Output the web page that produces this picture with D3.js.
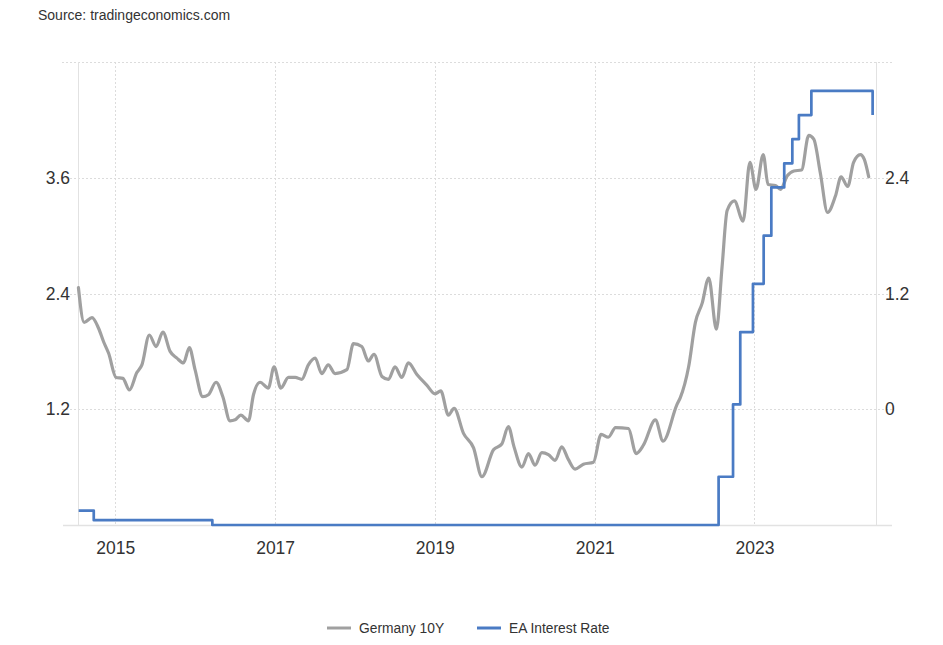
<!DOCTYPE html>
<html>
<head>
<meta charset="utf-8">
<script src="https://cdn.jsdelivr.net/npm/d3@7"></script>
<style>
  body { margin: 0; background: #fff; font-family: "Liberation Sans", Arial, sans-serif; }
  svg text { fill: #333; }
</style>
</head>
<body>
<div id="chart"></div>
<script>
/* Germany 10Y */
var bundDates = ["2014-07-17","2014-08-12","2014-09-17","2014-10-17","2014-11-09","2014-12-02",
  "2015-01-05","2015-02-05","2015-03-07","2015-04-10","2015-05-03","2015-06-06","2015-07-07","2015-08-07",
  "2015-09-09","2015-10-10","2015-11-09","2015-12-06","2016-01-01","2016-02-05","2016-03-02","2016-04-06",
  "2016-05-07","2016-06-09","2016-07-02","2016-07-28","2016-09-01","2016-09-24","2016-10-24","2016-12-01",
  "2016-12-27","2017-01-27","2017-03-03","2017-04-03","2017-05-03","2017-06-02","2017-07-03","2017-08-02",
  "2017-09-01","2017-10-02","2017-11-25","2017-12-25","2018-02-01","2018-03-03","2018-03-29","2018-05-04",
  "2018-06-03","2018-07-03","2018-08-03","2018-09-02","2018-10-11","2018-11-25","2019-01-02","2019-01-28",
  "2019-03-04","2019-03-30","2019-05-12","2019-06-27","2019-08-04","2019-09-26","2019-11-03","2019-12-03",
  "2019-12-29","2020-02-03","2020-03-04","2020-04-03","2020-05-04","2020-06-03","2020-07-04","2020-08-03",
  "2020-09-02","2020-10-03","2020-11-10","2020-12-26","2021-01-30","2021-03-04","2021-04-06","2021-06-04",
  "2021-07-09","2021-08-12","2021-10-05","2021-11-09","2022-01-12","2022-01-27","2022-03-06","2022-04-06",
  "2022-05-07","2022-06-06","2022-07-11","2022-08-06","2022-08-29","2022-10-01","2022-11-10","2022-12-11",
  "2023-01-08","2023-02-10","2023-03-04","2023-04-07","2023-04-30","2023-05-31","2023-06-30","2023-08-04",
  "2023-09-06","2023-09-29","2023-10-29","2023-12-01","2024-01-06","2024-02-01","2024-03-02","2024-03-29",
  "2024-04-29","2024-05-17","2024-06-06"];
var bundValues = [2.46,2.10,2.15,2.04,1.90,1.78,
  1.53,1.52,1.40,1.58,1.66,1.97,1.85,2.00,
  1.80,1.73,1.68,1.84,1.61,1.33,1.35,1.48,
  1.33,1.08,1.09,1.14,1.08,1.35,1.48,1.42,
  1.64,1.42,1.53,1.53,1.51,1.66,1.73,1.57,
  1.66,1.57,1.61,1.88,1.85,1.70,1.77,1.54,
  1.51,1.64,1.53,1.68,1.56,1.45,1.36,1.39,
  1.14,1.21,0.95,0.80,0.50,0.78,0.84,1.02,
  0.81,0.60,0.74,0.62,0.75,0.73,0.67,0.81,
  0.68,0.58,0.63,0.65,0.94,0.91,1.01,1.00,
  0.74,0.83,1.09,0.87,1.25,1.32,1.64,2.10,
  2.30,2.56,2.03,2.68,3.26,3.36,3.15,3.76,
  3.48,3.84,3.53,3.52,3.48,3.62,3.67,3.68,
  4.04,4.00,3.65,3.24,3.41,3.61,3.51,3.76,
  3.84,3.79,3.61];

/* EA interest rate */
var rateDates = ["2014-07-18","2014-09-25","2016-03-20","2022-07-21","2022-09-25","2022-10-28","2022-12-25",
  "2023-02-12","2023-03-19","2023-05-17","2023-06-23","2023-07-23","2023-09-18","2024-06-10","2024-06-24"];
var rateValues = [-1.05,-1.15,-1.2,-0.7,0.05,0.8,1.3,1.8,2.3,2.55,2.8,3.05,3.3,3.3,3.05];

var leftTicks = [1.2, 2.4, 3.6];
var rightTicks = [0, 1.2, 2.4];
var yearTicks = [2015, 2017, 2019, 2021, 2023];
var seriesNames = ["Germany 10Y", "EA Interest Rate"];
var seriesColors = ["#a0a0a0", "#4a7bc4"];

var width = 943, height = 645;
var margin = {top: 62, right: 66, bottom: 120, left: 78};
var w = width - margin.left - margin.right,
    h = height - margin.top - margin.bottom;

var parse = d3.timeParse("%Y-%m-%d");
var bund = bundDates.map(function(d, i) { return {date: parse(d), value: bundValues[i]}; });
var rate = rateDates.map(function(d, i) { return {date: parse(d), value: rateValues[i]}; });

var x = d3.scaleTime().domain([parse("2014-07-15"), parse("2024-07-14")]).range([0, w]);
var yL = d3.scaleLinear().domain([0, 4.8]).range([h, 0]);
var yR = d3.scaleLinear().domain([-1.2, 3.6]).range([h, 0]);

var svg = d3.select("#chart").append("svg")
    .attr("width", width)
    .attr("height", height);

svg.append("text")
    .attr("x", 38).attr("y", 20)
    .attr("font-size", 14)
    .text("Source: tradingeconomics.com");

var chart = svg.append("g")
    .attr("transform", "translate(" + margin.left + "," + margin.top + ")");

/* horizontal grid */
chart.append("g").selectAll("line")
    .data([1.2, 2.4, 3.6, 4.8])
    .enter().append("line")
    .attr("x1", -16).attr("x2", w + 15)
    .attr("y1", function(d) { return Math.round(yL(d)) + 0.5; })
    .attr("y2", function(d) { return Math.round(yL(d)) + 0.5; })
    .attr("stroke", "#dcdcdc")
    .attr("stroke-dasharray", "2,2");

/* vertical grid */
chart.append("g").selectAll("line")
    .data(yearTicks)
    .enter().append("line")
    .attr("x1", function(d) { return Math.round(x(new Date(d, 0, 1))) + 0.5; })
    .attr("x2", function(d) { return Math.round(x(new Date(d, 0, 1))) + 0.5; })
    .attr("y1", 0).attr("y2", h)
    .attr("stroke", "#dcdcdc")
    .attr("stroke-dasharray", "2,2");

/* frame lines */
chart.append("line").attr("x1", 0.5).attr("x2", 0.5).attr("y1", 0).attr("y2", h)
    .attr("stroke", "#e2e2e2");
chart.append("line").attr("x1", w - 0.5).attr("x2", w - 0.5).attr("y1", 0).attr("y2", h)
    .attr("stroke", "#e2e2e2");
chart.append("line").attr("x1", -15).attr("x2", w + 15).attr("y1", h + 0.5).attr("y2", h + 0.5)
    .attr("stroke", "#e2e2e2").attr("stroke-width", 1.5);

/* axes */
var leftAxis = chart.append("g")
    .call(d3.axisLeft(yL).tickValues(leftTicks).tickSize(0).tickPadding(8).tickFormat(d3.format(".1f")));
var rightAxis = chart.append("g")
    .attr("transform", "translate(" + w + ",0)")
    .call(d3.axisRight(yR).tickValues(rightTicks).tickSize(0).tickPadding(8)
        .tickFormat(function(d) { return d === 0 ? "0" : d3.format(".1f")(d); }));
var xAxis = chart.append("g")
    .attr("transform", "translate(0," + h + ")")
    .call(d3.axisBottom(x).tickValues(yearTicks.map(function(y) { return new Date(y, 0, 1); }))
        .tickSize(0).tickPadding(17).tickFormat(d3.timeFormat("%Y")));

[leftAxis, rightAxis, xAxis].forEach(function(a) {
  a.select(".domain").remove();
  a.selectAll("text")
    .attr("font-family", "Liberation Sans, Arial, sans-serif")
    .attr("font-size", 17.5)
    .attr("fill", "#333");
});

/* lines */
var bundLine = d3.line()
    .x(function(d) { return x(d.date); })
    .y(function(d) { return yL(d.value); })
    .curve(d3.curveMonotoneX);

var rateLine = d3.line()
    .x(function(d) { return x(d.date); })
    .y(function(d) { return yR(d.value); })
    .curve(d3.curveStepAfter);

chart.append("path")
    .datum(bund)
    .attr("fill", "none")
    .attr("stroke", seriesColors[0])
    .attr("stroke-width", 3.2)
    .attr("stroke-linejoin", "round")
    .attr("stroke-linecap", "round")
    .attr("d", bundLine);

chart.append("path")
    .datum(rate)
    .attr("fill", "none")
    .attr("stroke", seriesColors[1])
    .attr("stroke-width", 2.7)
    .attr("stroke-linejoin", "round")
    .attr("d", rateLine);

/* legend */
var legendX = [327, 477];
var legend = svg.append("g").selectAll("g")
    .data(seriesNames)
    .enter().append("g")
    .attr("transform", function(d, i) { return "translate(" + legendX[i] + ",628)"; });

legend.append("line")
    .attr("x1", 0).attr("x2", 24)
    .attr("stroke", function(d, i) { return seriesColors[i]; })
    .attr("stroke-width", 3);

legend.append("text")
    .attr("x", 32).attr("y", 5)
    .attr("font-size", 13.8)
    .attr("fill", "#444")
    .text(function(d) { return d; });
</script>
</body>
</html>
